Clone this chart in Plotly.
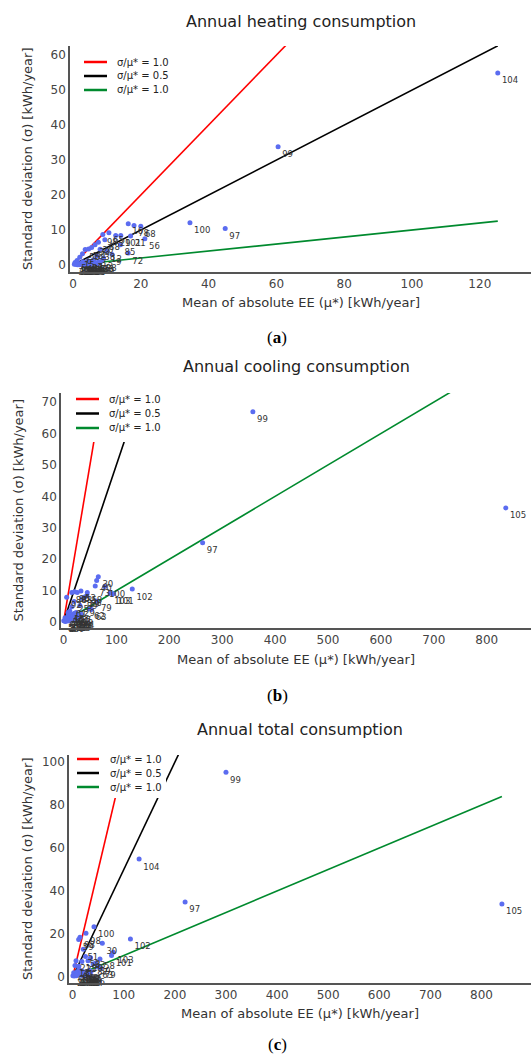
import plotly.graph_objects as go

W, H = 531, 1055

# ---------------- data ----------------
heat_mu = [125.3, 60.5, 34.5, 44.9, 16.3, 18.0, 20.0, 21.2, 17.0, 14.0, 16.3, 9.4, 10.6, 12.6,
           14.1, 8.8, 7.5, 6.5, 5.5, 4.6, 3.6, 2.8, 2.0, 1.2, 0.6, 8.0, 10.0, 11.5, 7.0, 9.0,
           6.0, 5.0, 4.0, 3.0, 2.2, 1.5, 0.8, 6.5, 7.5, 4.5, 3.5, 2.5, 5.5, 8.5, 1.0, 0.4,
           1.8, 2.6, 3.3, 4.2, 4.9, 5.8, 6.8, 3.8, 2.9, 5.2, 6.2, 1.3, 7.8, 4.4]
heat_sigma = [54.9, 33.8, 12.1, 10.4, 11.8, 11.3, 11.1, 7.5, 8.3, 5.8, 3.4, 7.2, 9.2, 8.4,
              8.4, 8.7, 6.5, 5.8, 5.0, 4.6, 4.4, 3.2, 2.2, 1.3, 0.7, 4.5, 4.0, 3.0, 2.6, 2.0,
              1.5, 1.0, 0.8, 0.6, 0.4, 0.3, 0.2, 0.5, 0.9, 0.3, 0.2, 0.1, 0.2, 1.2, 0.5, 0.2,
              0.1, 0.3, 0.1, 0.5, 0.2, 0.7, 0.3, 0.6, 0.9, 0.1, 1.0, 0.1, 0.4, 1.2]
heat_labels = ["104", "99", "100", "97", "16", "78", "68", "56", "21", "85", "72", "88", "65", "29",
               "101", "98", "20", "33", "41", "13", "55", "6", "15", "5", "45", "38", "12", "9", "3", "2",
               "7", "10", "11", "14", "17", "18", "19", "22", "23", "24", "25", "26", "27", "28", "31", "32",
               "34", "35", "36", "37", "39", "40", "42", "43", "44", "46", "47", "48", "49", "50"]

cool_mu = [358, 263, 836, 130, 65.8, 62.7, 60.0, 78.0, 88.0, 94.0, 45.0, 26.0, 15.5, 6.0,
           63.0, 50.0, 53.0, 20.0, 31.0, 44.0, 33.0, 21.0, 15.5, 9.0, 3.0, 0.5, 36.0, 40.0,
           12.0, 18.0, 24.0, 28.0, 8.0, 14.0, 22.0, 30.0, 5.0, 10.0, 2.0, 26.0, 34.0, 17.0,
           4.0, 7.0, 11.0, 16.0, 19.0, 23.0, 27.0, 13.0, 6.0, 9.5, 21.0, 25.0]
cool_sigma = [66.9, 25.2, 36.3, 10.5, 14.4, 13.2, 11.5, 11.3, 9.2, 9.0, 9.4, 9.4, 9.4, 7.9,
              6.7, 4.2, 4.0, 6.5, 5.3, 8.4, 9.9, 9.6, 4.9, 3.0, 1.4, 0.4, 7.5, 8.0,
              3.5, 2.5, 3.0, 2.0, 1.5, 1.0, 1.2, 1.5, 0.6, 0.8, 0.3, 0.5, 2.5, 1.8,
              0.2, 0.4, 0.3, 0.6, 0.9, 0.4, 1.0, 2.0, 1.1, 2.4, 2.8, 1.4]
cool_labels = ["99", "97", "105", "102", "30", "40", "73", "100", "103", "101", "58", "48", "88", "92",
               "79", "62", "63", "25", "29", "98", "53", "86", "61", "44", "6", "5", "89", "19",
               "15", "16", "17", "18", "11", "12", "13", "14", "3", "4", "2", "7", "8", "9",
               "1", "10", "20", "21", "22", "23", "24", "26", "27", "28", "31", "32"]

total_mu = [300, 130, 220, 840, 113, 41.7, 26.0, 14.3, 11.7, 58.0, 20.8, 79.5, 76.0, 53.4,
            50.0, 55.0, 35.0, 25.0, 30.0, 18.0, 12.0, 6.5, 4.5, 2.0, 0.5, 40.0, 45.0, 15.0,
            20.0, 24.0, 28.0, 32.0, 10.0, 8.0, 16.0, 22.0, 5.0, 3.0, 12.0, 36.0,
            7.0, 11.0, 14.0, 18.0, 21.0, 26.0, 30.0, 34.0, 9.0, 17.0, 23.0, 27.0]
total_sigma = [95.3, 54.9, 34.9, 34.0, 17.7, 23.4, 20.3, 18.5, 17.5, 15.7, 12.9, 11.5, 10.0, 8.4,
               4.6, 4.2, 8.9, 9.5, 7.5, 7.2, 5.0, 7.6, 5.4, 2.0, 0.6, 6.0, 6.5, 3.0,
               2.5, 2.0, 1.5, 3.0, 1.8, 2.2, 1.0, 1.2, 0.8, 0.5, 3.5, 2.5,
               0.6, 0.9, 1.4, 0.7, 1.6, 0.9, 0.8, 1.3, 1.2, 2.2, 0.5, 2.4]
total_labels = ["99", "104", "97", "105", "102", "100", "98", "88", "59", "30", "51", "103", "101", "58",
                "63", "79", "83", "53", "29", "25", "41", "21", "13", "6", "2", "87", "39", "15",
                "16", "17", "18", "5", "11", "12", "14", "19", "3", "4", "9", "7",
                "1", "8", "10", "20", "22", "23", "24", "26", "27", "28", "31", "32"]

ratio_slopes = [1.0, 0.5, 0.1]
ratio_names = ["σ/μ* = 1.0", "σ/μ* = 0.5", "σ/μ* = 1.0"]
ratio_colors = ["#ff0000", "#000000", "#008a2e"]

panel_titles = ["Annual heating consumption", "Annual cooling consumption", "Annual total consumption"]
panel_tags = ["a", "b", "c"]
x_ticks_heat = [0, 20, 40, 60, 80, 100, 120]
x_ticks_big = [0, 100, 200, 300, 400, 500, 600, 700, 800]
y_ticks_heat = [0, 10, 20, 30, 40, 50, 60]
y_ticks_cool = [0, 10, 20, 30, 40, 50, 60, 70]
y_ticks_total = [0, 20, 40, 60, 80, 100]

x_title = "Mean of absolute EE (μ*) [kWh/year]"
y_title = "Standard deviation (σ) [kWh/year]"

# ---------------- layout geometry (pixels) ----------------
FONT = "DejaVu Sans"
panels = [
    dict(mu=heat_mu, sg=heat_sigma, lb=heat_labels, xt=x_ticks_heat, yt=y_ticks_heat,
         left=70, top=46, bottom=272, xr=[-0.88, 135.1], yr=[-2.0, 62.6],
         title_y=22, xtitle_y=303, ytitle_x=27, tag_y=337,
         leg_rows=[62, 76, 90], leg_line=[84, 107], leg_text=115, leg_box=[71, 172, 46, 102]),
    dict(mu=cool_mu, sg=cool_sigma, lb=cool_labels, xt=x_ticks_big, yt=y_ticks_cool,
         left=61, top=393, bottom=628, xr=[-4.7, 883.7], yr=[-1.9, 72.9],
         title_y=367, xtitle_y=659, ytitle_x=18, tag_y=695,
         leg_rows=[399, 413.5, 428], leg_line=[76, 99], leg_text=107, leg_box=[62, 163, 393, 442]),
    dict(mu=total_mu, sg=total_sigma, lb=total_labels, xt=x_ticks_big, yt=y_ticks_total,
         left=69, top=755, bottom=983, xr=[-7.2, 896.9], yr=[-2.8, 103.3],
         title_y=729, xtitle_y=1013, ytitle_x=27, tag_y=1044,
         leg_rows=[759, 773, 787], leg_line=[77, 99], leg_text=108, leg_box=[70, 166, 755, 798]),
]


def px(x):
    return x / W


def py(y):
    return 1 - y / H


fig = go.Figure()
shapes = []
annotations = []

for i, p in enumerate(panels):
    sfx = "" if i == 0 else str(i + 1)
    xa, ya = "x" + sfx, "y" + sfx
    xmax = max(p["mu"])
    for k, name, col in zip(ratio_slopes, ratio_names, ratio_colors):
        fig.add_trace(go.Scatter(x=[0, xmax], y=[0, k * xmax], mode="lines",
                                 line=dict(color=col, width=1.6), name=name,
                                 xaxis=xa, yaxis=ya, showlegend=False, hoverinfo="skip"))
    fig.add_trace(go.Scatter(x=p["mu"], y=p["sg"], mode="markers+text", text=p["lb"],
                             textposition="bottom right",
                             textfont=dict(family=FONT, size=8.5, color="#333333"),
                             marker=dict(color="#5b6cf0", size=5),
                             xaxis=xa, yaxis=ya, showlegend=False, cliponaxis=False))

    axis_common = dict(showline=True, linecolor="#555555", linewidth=1.5, showgrid=False,
                       zeroline=False, ticks="", tickfont=dict(family=FONT, size=12, color="#444444"))
    fig.update_layout(**{
        "xaxis" + sfx: dict(domain=[px(p["left"]), 1.0], range=p["xr"], anchor=ya,
                            tickvals=p["xt"], **axis_common),
        "yaxis" + sfx: dict(domain=[py(p["bottom"]), py(p["top"])], range=p["yr"], anchor=xa,
                            tickvals=p["yt"], **axis_common),
    })

    cx = (p["left"] + W) / 2
    annotations.append(dict(text=panel_titles[i], x=px(cx), y=py(p["title_y"]), xref="paper", yref="paper",
                            showarrow=False, xanchor="center", yanchor="middle",
                            font=dict(family=FONT, size=16, color="#222222")))
    annotations.append(dict(text=x_title, x=px(cx), y=py(p["xtitle_y"]), xref="paper", yref="paper",
                            showarrow=False, xanchor="center", yanchor="middle",
                            font=dict(family=FONT, size=13, color="#333333")))
    annotations.append(dict(text=y_title, x=px(p["ytitle_x"]), y=py((p["top"] + p["bottom"]) / 2),
                            xref="paper", yref="paper", showarrow=False, textangle=-90,
                            xanchor="center", yanchor="middle",
                            font=dict(family=FONT, size=13, color="#333333")))
    annotations.append(dict(text="(<b>%s</b>)" % panel_tags[i], x=px(277), y=py(p["tag_y"]),
                            xref="paper", yref="paper", showarrow=False, xanchor="center", yanchor="middle",
                            font=dict(family="Liberation Serif", size=17, color="#000000")))

    # legend (drawn above the lines on a white box)
    bx0, bx1, by0, by1 = p["leg_box"]
    shapes.append(dict(type="rect", xref="paper", yref="paper", x0=px(bx0), x1=px(bx1),
                       y0=py(by1), y1=py(by0), fillcolor="white", line=dict(width=0), layer="above"))
    for row, name, col in zip(p["leg_rows"], ratio_names, ratio_colors):
        shapes.append(dict(type="line", xref="paper", yref="paper", x0=px(p["leg_line"][0]),
                           x1=px(p["leg_line"][1]), y0=py(row), y1=py(row),
                           line=dict(color=col, width=2.5), layer="above"))
        annotations.append(dict(text=name, x=px(p["leg_text"]), y=py(row), xref="paper", yref="paper",
                                showarrow=False, xanchor="left", yanchor="middle",
                                font=dict(family=FONT, size=10, color="#222222")))

fig.update_layout(width=W, height=H, margin=dict(l=0, r=0, t=0, b=0),
                  paper_bgcolor="white", plot_bgcolor="white",
                  shapes=shapes, annotations=annotations, showlegend=False)

fig.write_html("out.html")
